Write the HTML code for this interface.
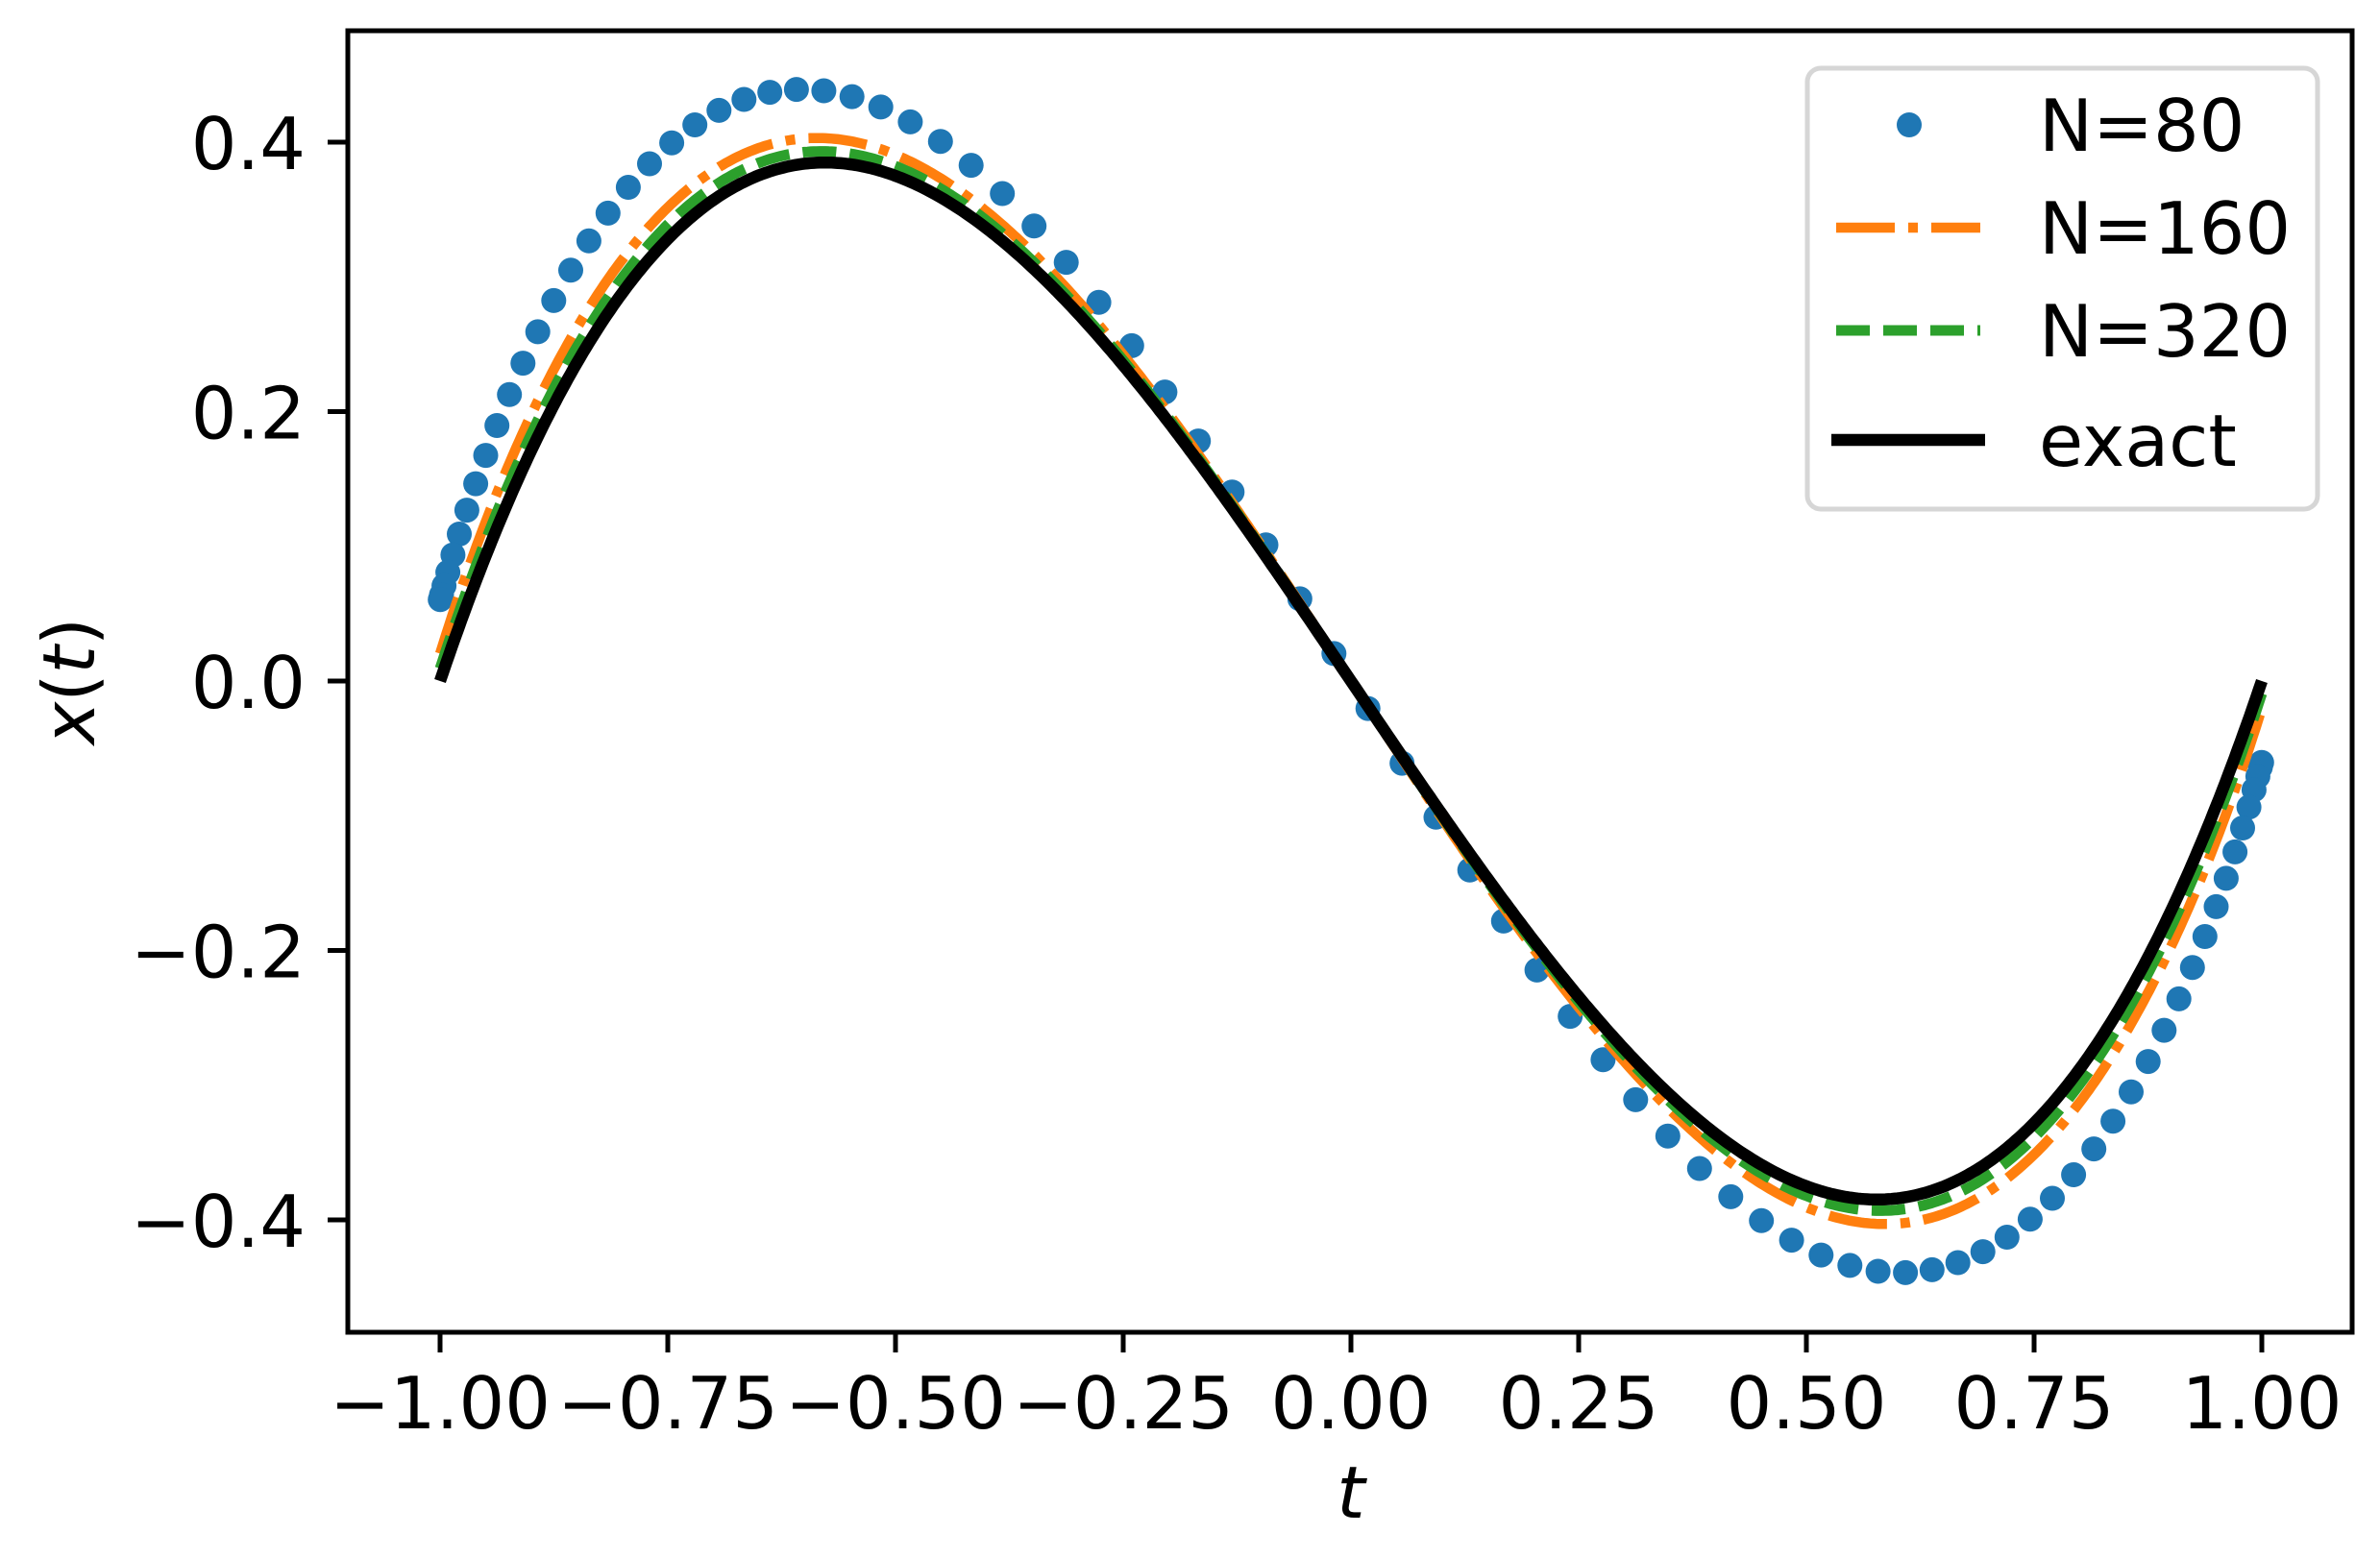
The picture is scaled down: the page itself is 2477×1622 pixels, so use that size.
<!DOCTYPE html>
<html><head><meta charset="utf-8"><style>
html,body{margin:0;padding:0;background:#fff;}
svg{display:block;}
text{font-family:"DejaVu Sans","Liberation Sans",sans-serif;fill:#000;}
</style></head><body>
<svg id="s" width="2477" height="1622" viewBox="0 0 2477 1622" xmlns="http://www.w3.org/2000/svg">
<defs><clipPath id="c"><rect x="362" y="32" width="2086" height="1355"/></clipPath></defs>
<g id="plot" clip-path="url(#c)"></g>
<rect x="362" y="32" width="2086" height="1355" fill="none" stroke="#000" stroke-width="5"/>
<g id="ticks" stroke="#000" stroke-width="5"></g>
<g id="labels" font-size="75"></g>
<text x="1406" y="1580" font-size="75" font-style="italic" text-anchor="middle">t</text>
<text transform="translate(98,709) rotate(-90)" font-size="75" text-anchor="middle"><tspan font-style="italic">x</tspan>(<tspan font-style="italic">t</tspan>)</text>
<rect x="1881" y="71" width="531" height="459" rx="14" fill="#fff" fill-opacity="0.8" stroke="#d6d6d6" stroke-width="5"/>
<circle cx="1987" cy="130" r="13" fill="#1f77b4"/>
<line x1="1911" y1="237" x2="2061" y2="237" stroke="#ff7f0e" stroke-width="10.5" stroke-dasharray="61,14,10,14"/>
<line x1="1911" y1="344" x2="2061" y2="344" stroke="#2ca02c" stroke-width="11" stroke-dasharray="35,14"/>
<line x1="1906" y1="458" x2="2066" y2="458" stroke="#000" stroke-width="12.5"/>
<g font-size="75"><text x="2122" y="157">N=80</text><text x="2122" y="264">N=160</text><text x="2122" y="371">N=320</text><text x="2122" y="485">exact</text></g>
</svg>
<script>
var NS="http://www.w3.org/2000/svg";
function X(t){return 1406+948*t;}
function Y(v){return 709-1402.5*v;}
function ex(t){return t*t*t-t;}
function err(t){var s=t<0?1:-1,u=Math.abs(t);return s*(0.092*u-0.032*Math.pow(u,18));}
function el(n,attrs,p){var e=document.createElementNS(NS,n);for(var k in attrs)e.setAttribute(k,attrs[k]);p.appendChild(e);return e;}
var plot=document.getElementById('plot');
var n=84;
for(var k=0;k<n;k++){var t=Math.cos((2*k+1)*Math.PI/(2*n));
el('circle',{cx:X(t).toFixed(1),cy:Y(ex(t)+err(t)).toFixed(1),r:13,fill:'#1f77b4'},plot);}
function path(f){var d='';for(var i=0;i<=600;i++){var t=-1+2*i/600;d+=(i?'L':'M')+X(t).toFixed(1)+','+Y(f(t)).toFixed(1);}return d;}
el('path',{d:path(function(t){return ex(t)+0.34*err(t);}),fill:'none',stroke:'#ff7f0e','stroke-width':10.5,'stroke-dasharray':'61,14,10,14'},plot);
el('path',{d:path(function(t){return ex(t)+0.155*err(t);}),fill:'none',stroke:'#2ca02c','stroke-width':11,'stroke-dasharray':'35,14'},plot);
el('path',{d:path(ex),fill:'none',stroke:'#000','stroke-width':12.5},plot);
var tk=document.getElementById('ticks'),lb=document.getElementById('labels');
for(var i=0;i<=8;i++){var t=-1+0.25*i,x=X(t);
el('line',{x1:x,y1:1387,x2:x,y2:1408},tk);
var s=Math.abs(t).toFixed(2);var e=el('text',{x:x,y:1487,'text-anchor':'middle'},lb);e.textContent=(t<0?'\u2212':'')+s;}
for(var i=0;i<=4;i++){var v=-0.4+0.2*i,y=Y(v);
el('line',{x1:341,y1:y,x2:362,y2:y},tk);
var s=Math.abs(v).toFixed(1);var e=el('text',{x:318,y:y+28,'text-anchor':'end'},lb);e.textContent=(v<-1e-9?'\u2212':'')+s;}
</script>
</body></html>
